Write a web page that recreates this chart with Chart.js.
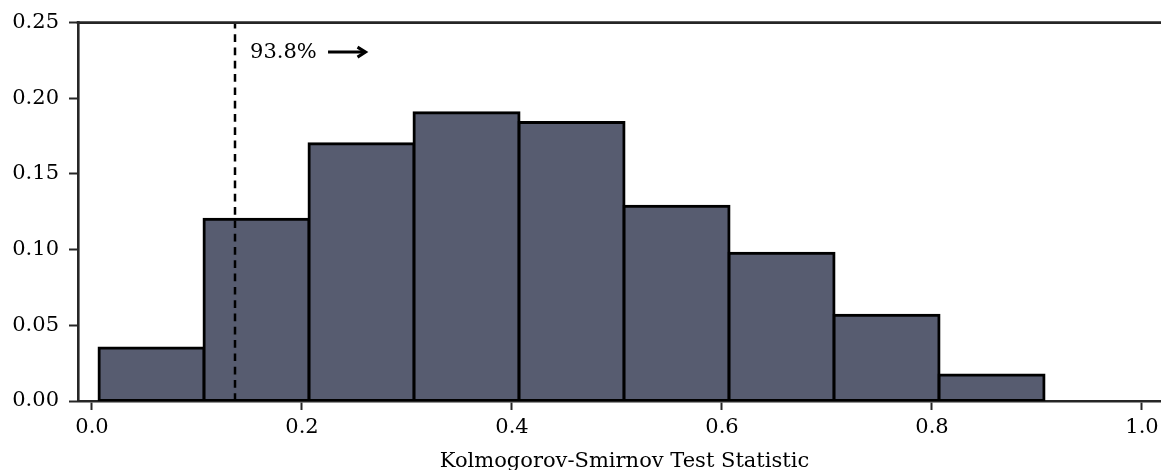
<!DOCTYPE html>
<html>
<head>
<meta charset="utf-8">
<title>KS statistic histogram</title>
<script src="https://cdn.jsdelivr.net/npm/chart.js@4.4.1/dist/chart.umd.min.js"></script>
<style>
  html, body { margin: 0; padding: 0; background: #fff; overflow: hidden; }
  #wrap { width: 1161px; height: 470px; overflow: hidden; }
</style>
</head>
<body>
<div id="wrap">
  <canvas id="ksChart" width="1171" height="470"></canvas>
</div>
<script>
// histogram bins (left edges + final right edge) and fraction per bin
const binEdges = [0.0067, 0.1067, 0.2067, 0.3067, 0.4067, 0.5067, 0.6067, 0.7067, 0.8067, 0.9067];
const binFractions = [0.035, 0.120, 0.170, 0.1905, 0.184, 0.1286, 0.0976, 0.0567, 0.0172];
const xTickValues = [0.0, 0.2, 0.4, 0.6, 0.8, 1.0];
const yTickValues = [0.00, 0.05, 0.10, 0.15, 0.20, 0.25];
const thresholdX = 0.136;
const thresholdLabel = "93.8%";
const xAxisTitle = "Kolmogorov-Smirnov Test Statistic";

const SERIF = "'DejaVu Serif', 'Liberation Serif', serif";
const SPINE = "#262626";
const FONT_SIZE = 21;

const barData = binFractions.map((v, i) => ({
  x: (binEdges[i] + binEdges[i + 1]) / 2,
  y: v
}));

// dashed threshold line, annotation text/arrow and the top spine
const overlay = {
  id: "overlay",
  afterDatasetsDraw(chart) {
    const { ctx, chartArea, scales } = chart;
    const x = scales.x, y = scales.y;
    ctx.save();

    const px = Math.round(x.getPixelForValue(thresholdX));
    ctx.strokeStyle = "#000";
    ctx.lineWidth = 2.5;
    ctx.setLineDash([7.7, 5.6]);
    ctx.beginPath();
    ctx.moveTo(px, chartArea.bottom);
    ctx.lineTo(px, chartArea.top);
    ctx.stroke();
    ctx.setLineDash([]);

    const ty = y.getPixelForValue(0.2305);
    ctx.fillStyle = "#000";
    ctx.font = FONT_SIZE + "px " + SERIF;
    ctx.textBaseline = "middle";
    ctx.textAlign = "left";
    ctx.fillText(thresholdLabel, x.getPixelForValue(0.1505), ty);

    const a0 = x.getPixelForValue(0.2248);
    const a1 = x.getPixelForValue(0.2605);
    ctx.lineWidth = 3;
    ctx.lineCap = "butt";
    ctx.beginPath();
    ctx.moveTo(a0, ty);
    ctx.lineTo(a1 - 1.5, ty);
    ctx.stroke();
    ctx.lineJoin = "miter";
    ctx.beginPath();
    ctx.moveTo(a1 - 8, ty - 5);
    ctx.lineTo(a1, ty);
    ctx.lineTo(a1 - 8, ty + 5);
    ctx.stroke();

    ctx.strokeStyle = SPINE;
    ctx.lineWidth = 2.6;
    ctx.beginPath();
    ctx.moveTo(chartArea.left - 1.3, chartArea.top);
    ctx.lineTo(chartArea.right, chartArea.top);
    ctx.stroke();
    ctx.restore();
  }
};

new Chart(document.getElementById("ksChart"), {
  type: "bar",
  data: {
    datasets: [{
      data: barData,
      backgroundColor: "#575c70",
      borderColor: "#000",
      borderWidth: 3,
      borderSkipped: false,
      inflateAmount: 1.5,
      barPercentage: 1.0,
      categoryPercentage: 1.0
    }]
  },
  options: {
    responsive: false,
    animation: false,
    layout: { padding: { top: 22, right: 0, left: 0, bottom: 0 } },
    plugins: {
      legend: { display: false },
      tooltip: { enabled: false }
    },
    scales: {
      x: {
        type: "linear",
        offset: false,
        min: -0.01333,
        max: 1.02762,
        afterBuildTicks: (scale) => {
          scale.ticks = xTickValues.map(v => ({ value: v }));
        },
        afterFit: (scale) => { scale.height = 69; },
        grid: {
          offset: false,
          drawOnChartArea: false,
          drawTicks: true,
          tickLength: 9,
          tickWidth: 2,
          tickColor: SPINE
        },
        border: { display: true, color: SPINE, width: 2.6 },
        ticks: {
          color: "#000",
          padding: 5,
          maxRotation: 0,
          font: { family: SERIF, size: FONT_SIZE },
          callback: (v) => Number(v).toFixed(1)
        },
        title: {
          display: true,
          text: xAxisTitle,
          color: "#000",
          padding: { top: 0, bottom: -4 },
          font: { family: SERIF, size: FONT_SIZE }
        }
      },
      y: {
        min: 0,
        max: 0.25,
        afterBuildTicks: (scale) => {
          scale.ticks = yTickValues.map(v => ({ value: v }));
        },
        afterFit: (scale) => { scale.width = 78; },
        grid: {
          drawOnChartArea: false,
          drawTicks: true,
          tickLength: 9,
          tickWidth: 2,
          tickColor: SPINE
        },
        border: { display: true, color: SPINE, width: 2.6 },
        ticks: {
          color: "#000",
          padding: 10,
          font: { family: SERIF, size: FONT_SIZE },
          callback: (v) => Number(v).toFixed(2)
        }
      }
    }
  },
  plugins: [overlay]
});
</script>
</body>
</html>
